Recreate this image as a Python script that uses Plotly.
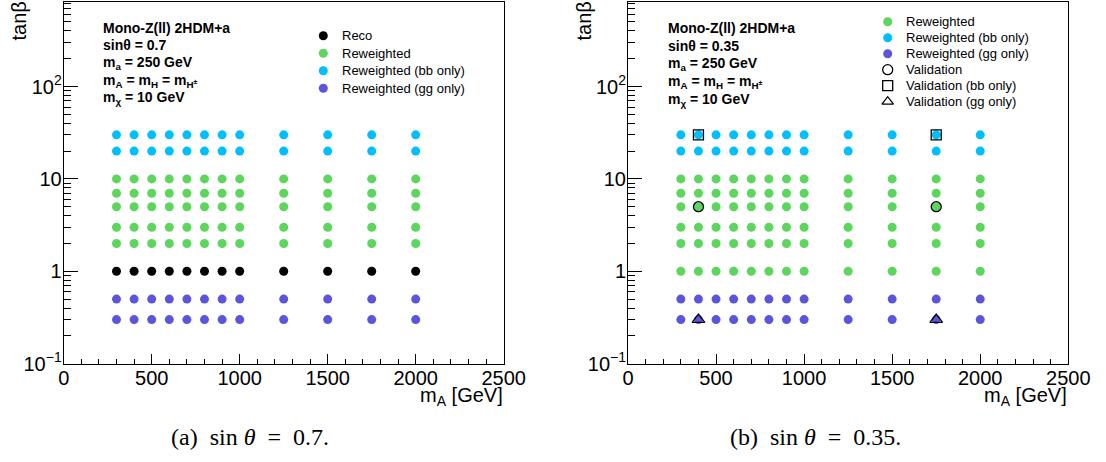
import plotly.graph_objects as go

# ---------------------------------------------------------------- data
m_A = [300, 400, 500, 600, 700, 800, 900, 1000, 1250, 1500, 1750, 2000]

# panel (a): sin(theta) = 0.7
tanb_reco_a = [1]
tanb_rew_a = [2, 3, 5, 7, 10]
tanb_bb_a = [20, 30]
tanb_gg_a = [0.3, 0.5]

# panel (b): sin(theta) = 0.35
tanb_rew_b = [1, 2, 3, 5, 7, 10]
tanb_bb_b = [20, 30]
tanb_gg_b = [0.3, 0.5]
m_A_val = [400, 1750]
tanb_val = [5]
tanb_val_bb = [30]
tanb_val_gg = [0.3]

x_ticks = [0, 500, 1000, 1500, 2000, 2500]
y_ticks = [0.1, 1, 10, 100]
y_ticktext = ["10<sup>\u22121</sup>", "1", "10", "10<sup>2</sup>"]

info_a = ["Mono-Z(ll) 2HDM+a", "sin\u03b8 = 0.7", "m<sub>a</sub> = 250 GeV",
          "m<sub>A</sub> = m<sub>H</sub> = m<sub>H<sup>\u00b1</sup></sub>",
          "m<sub>\u03c7</sub> = 10 GeV"]
info_b = ["Mono-Z(ll) 2HDM+a", "sin\u03b8 = 0.35", "m<sub>a</sub> = 250 GeV",
          "m<sub>A</sub> = m<sub>H</sub> = m<sub>H<sup>\u00b1</sup></sub>",
          "m<sub>\u03c7</sub> = 10 GeV"]

captions = ["(a)\u2002sin <i>\u03b8</i>\u2002=\u20020.7.",
            "(b)\u2002sin <i>\u03b8</i>\u2002=\u20020.35."]

# ---------------------------------------------------------------- style
W, H = 1106, 462
FONT = "Liberation Sans"
C_RECO = "#000000"
C_REW = "#5CD65C"
C_BB = "#00BFFF"
C_GG = "#5B55DE"

legend_a = [("Reco", C_RECO, "circle"),
            ("Reweighted", C_REW, "circle"),
            ("Reweighted (bb only)", C_BB, "circle"),
            ("Reweighted (gg only)", C_GG, "circle")]
legend_b = [("Reweighted", C_REW, "circle"),
            ("Reweighted (bb only)", C_BB, "circle"),
            ("Reweighted (gg only)", C_GG, "circle"),
            ("Validation", "black", "circle-open"),
            ("Validation (bb only)", "black", "square-open"),
            ("Validation (gg only)", "black", "triangle-up-open")]


def px(x):
    return x / W


def py(y):
    return 1 - y / H


def grid(masses, tanbs):
    xs = [m for t in tanbs for m in masses]
    ys = [t for t in tanbs for m in masses]
    return xs, ys


fig = go.Figure()


def add_points(masses, tanbs, color, xa, ya, symbol="circle", size=9):
    xs, ys = grid(masses, tanbs)
    open_sym = symbol.endswith("open")
    fig.add_trace(go.Scatter(
        x=xs, y=ys, mode="markers", xaxis=xa, yaxis=ya,
        marker=dict(symbol=symbol, size=size, color=color,
                    line=dict(width=1.3 if open_sym else 0, color=color)),
        hoverinfo="x+y", showlegend=False))


# panel (a)
add_points(m_A, tanb_reco_a, C_RECO, "x", "y")
add_points(m_A, tanb_rew_a, C_REW, "x", "y")
add_points(m_A, tanb_bb_a, C_BB, "x", "y")
add_points(m_A, tanb_gg_a, C_GG, "x", "y")

# panel (b)
add_points(m_A, tanb_rew_b, C_REW, "x2", "y2")
add_points(m_A, tanb_bb_b, C_BB, "x2", "y2")
add_points(m_A, tanb_gg_b, C_GG, "x2", "y2")
add_points(m_A_val, tanb_val, "black", "x2", "y2", "circle-open", 10)
add_points(m_A_val, tanb_val_bb, "black", "x2", "y2", "square-open", 10)
add_points(m_A_val, tanb_val_gg, "black", "x2", "y2", "triangle-up-open", 11)

# ---------------------------------------------------------------- axes
x_minor = [v for v in range(0, 2501, 100) if v not in x_ticks]
y_minor = [k * 10.0 ** e for e in range(-1, 3) for k in range(2, 10)]

tickfont = dict(family=FONT, size=20, color="black")


def xaxis(domain, anchor):
    return dict(domain=domain, anchor=anchor, range=[0, 2500],
                automargin=False, ticklabelstandoff=-4,
                showline=True, linecolor="black", linewidth=1, mirror=True,
                ticks="inside", ticklen=10, tickwidth=1, tickcolor="black",
                tickmode="array", tickvals=x_ticks,
                ticktext=[str(v) for v in x_ticks],
                minor=dict(ticks="inside", ticklen=5, tickwidth=1,
                           tickcolor="black", tickmode="array",
                           tickvals=x_minor, showgrid=False),
                showgrid=False, zeroline=False, tickfont=tickfont)


def yaxis(anchor):
    return dict(domain=[py(363.7), py(1.5)], anchor=anchor, type="log",
                range=[-1, 2.92], automargin=False, ticklabelstandoff=-3,
                showline=True, linecolor="black", linewidth=1, mirror=True,
                ticks="inside", ticklen=14, tickwidth=1, tickcolor="black",
                tickmode="array", tickvals=y_ticks, ticktext=y_ticktext,
                minor=dict(ticks="inside", ticklen=7, tickwidth=1,
                           tickcolor="black", tickmode="array",
                           tickvals=y_minor, showgrid=False),
                showgrid=False, zeroline=False, tickfont=tickfont)


# ---------------------------------------------------------------- legends
# legend keys are drawn on a hidden full-page axis measured in pixels
def legend_keys(entries, x_marker, x_text, y0, step):
    for i, (label, color, symbol) in enumerate(entries):
        yy = y0 + i * step
        open_sym = symbol.endswith("open")
        fig.add_trace(go.Scatter(
            x=[x_marker], y=[yy], mode="markers", xaxis="x3", yaxis="y3",
            marker=dict(symbol=symbol, size=10 if open_sym else 9, color=color,
                        line=dict(width=1.3 if open_sym else 0, color=color)),
            hoverinfo="skip", showlegend=False))
        fig.add_annotation(x=px(x_text), y=py(yy), xref="paper", yref="paper",
                           text=label, showarrow=False, xanchor="left",
                           yanchor="middle",
                           font=dict(family=FONT, size=13, color="black"))


legend_keys(legend_a, 323.3, 339.5, 35.7, 17.5)
legend_keys(legend_b, 887.7, 904, 21.7, 16.0)

# ---------------------------------------------------------------- texts
def info_block(lines, x0, y0, step):
    for i, line in enumerate(lines):
        fig.add_annotation(x=px(x0), y=py(y0 + i * step), xref="paper",
                           yref="paper", text="<b>" + line + "</b>",
                           showarrow=False, xanchor="left", yanchor="middle",
                           font=dict(family=FONT, size=14, color="black"))


info_block(info_a, 101, 27.5, 17.7)
info_block(info_b, 666, 28.0, 18.0)

for x_left, x_right in [(18, 503.7), (583, 1068.3)]:
    fig.add_annotation(x=px(x_left), y=py(0), xref="paper", yref="paper",
                       text="tan\u03b2", textangle=-90, showarrow=False,
                       xanchor="center", yanchor="top",
                       font=dict(family=FONT, size=20, color="black"))
    fig.add_annotation(x=px(x_right + 1), y=py(396), xref="paper", yref="paper",
                       text="m<sub>A</sub> [GeV]", showarrow=False,
                       xanchor="right", yanchor="middle",
                       font=dict(family=FONT, size=20, color="black"))

for cx, cap in zip([250, 815], captions):
    fig.add_annotation(x=px(cx), y=py(437), xref="paper", yref="paper",
                       text=cap, showarrow=False, xanchor="center",
                       yanchor="middle",
                       font=dict(family="Liberation Serif", size=24,
                                 color="black"))

fig.update_layout(
    width=W, height=H,
    margin=dict(l=0, r=0, t=0, b=0, pad=0, autoexpand=False),
    paper_bgcolor="white", plot_bgcolor="rgba(0,0,0,0)", showlegend=False,
    xaxis=xaxis([px(63.7), px(503.7)], "y"),
    yaxis=yaxis("x"),
    xaxis2=xaxis([px(628.0), px(1068.3)], "y2"),
    yaxis2=yaxis("x2"),
    xaxis3=dict(domain=[0, 1], anchor="y3", range=[0, W], visible=False,
                fixedrange=True, automargin=False),
    yaxis3=dict(domain=[0, 1], anchor="x3", range=[H, 0], visible=False,
                fixedrange=True, automargin=False),
)

fig.write_html("out.html")
